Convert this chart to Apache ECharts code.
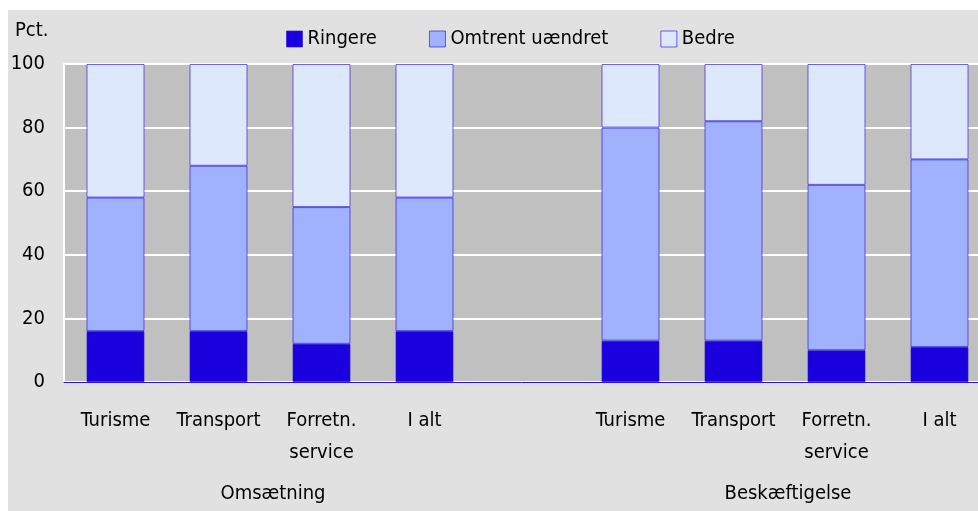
<!DOCTYPE html>
<html>
<head>
<meta charset="utf-8">
<script src="https://cdn.jsdelivr.net/npm/echarts@6/dist/echarts.min.js"></script>
<style>
  html, body { margin: 0; padding: 0; background: #fff; }
  #main { position: absolute; left: 8px; top: 10px; width: 970px; height: 501px; background: #e1e1e1; }
</style>
</head>
<body>
<div id="main"></div>
<script>
// data
var categories = ['Turisme', 'Transport', 'Forretn.\nservice', 'I alt', '',
                  'Turisme', 'Transport', 'Forretn.\nservice', 'I alt'];
var ringere = [16, 16, 12, 16, '-', 13, 13, 10, 11];
var omtrent = [42, 52, 43, 42, '-', 67, 69, 52, 59];
var bedre   = [42, 32, 45, 42, '-', 20, 18, 38, 30];
var groups = [
  { name: 'Omsætning', from: 0, to: 3 },
  { name: 'Beskæftigelse', from: 5, to: 8 }
];
var yTicks = { min: 0, max: 100, interval: 20 };

var font = '"DejaVu Sans Condensed", "Liberation Sans", sans-serif';
var border = 'rgba(40, 20, 225, 0.65)';

var myChart = echarts.init(document.getElementById('main'));

function bar(name, data, color) {
  return {
    name: name,
    type: 'bar',
    stack: 'total',
    data: data,
    barWidth: 58,
    itemStyle: { color: color, borderColor: border, borderWidth: 1 },
    emphasis: { disabled: true }
  };
}

myChart.setOption({
  animation: false,
  textStyle: { fontFamily: font },
  // the plot runs past the right edge of the picture, as in the original
  grid: { left: 56, width: 927, top: 54, bottom: 129, outerBoundsMode: 'none' },
  legend: {
    top: 14,
    left: 273,
    itemWidth: 16,
    itemHeight: 16,
    itemGap: 52,
    icon: 'rect',
    textStyle: { fontFamily: font, fontSize: 20, color: '#000' },
    data: [
      { name: 'Ringere', itemStyle: { borderColor: border, borderWidth: 1 } },
      { name: 'Omtrent uændret', itemStyle: { borderColor: border, borderWidth: 1 } },
      { name: 'Bedre', itemStyle: { borderColor: border, borderWidth: 1 } }
    ]
  },
  xAxis: {
    type: 'category',
    data: categories,
    axisLine: { lineStyle: { color: '#2a10e0', width: 1 } },
    axisTick: { show: false },
    axisLabel: {
      interval: 0,
      margin: 23,
      color: '#000',
      fontFamily: font,
      fontSize: 20,
      lineHeight: 32
    },
    splitLine: { show: false }
  },
  yAxis: {
    type: 'value',
    min: yTicks.min,
    max: yTicks.max,
    interval: yTicks.interval,
    axisLine: { show: true, lineStyle: { color: '#ffffff', width: 2 } },
    axisTick: { show: false },
    axisLabel: { margin: 19, color: '#000', fontFamily: font, fontSize: 20 },
    splitLine: { lineStyle: { color: '#ffffff', width: 2 } },
    splitArea: { show: true, areaStyle: { color: ['#c0c0c0'] } }
  },
  series: [
    bar('Ringere', ringere, '#1a00dd'),
    bar('Omtrent uændret', omtrent, '#a0b1fd'),
    bar('Bedre', bedre, '#dee8fd')
  ]
});

// group captions and unit label, placed through the axis scale
var texts = [{
  type: 'text', left: 7, top: 11,
  style: { text: 'Pct.', font: '20px ' + font, fill: '#000' }
}];
groups.forEach(function (g) {
  var x1 = myChart.convertToPixel({ xAxisIndex: 0 }, g.from);
  var x2 = myChart.convertToPixel({ xAxisIndex: 0 }, g.to);
  texts.push({
    type: 'text',
    x: (x1 + x2) / 2 + 3,
    y: 474,
    style: { text: g.name, font: '20px ' + font, fill: '#000', align: 'center' }
  });
});
myChart.setOption({ graphic: texts });
</script>
</body>
</html>
